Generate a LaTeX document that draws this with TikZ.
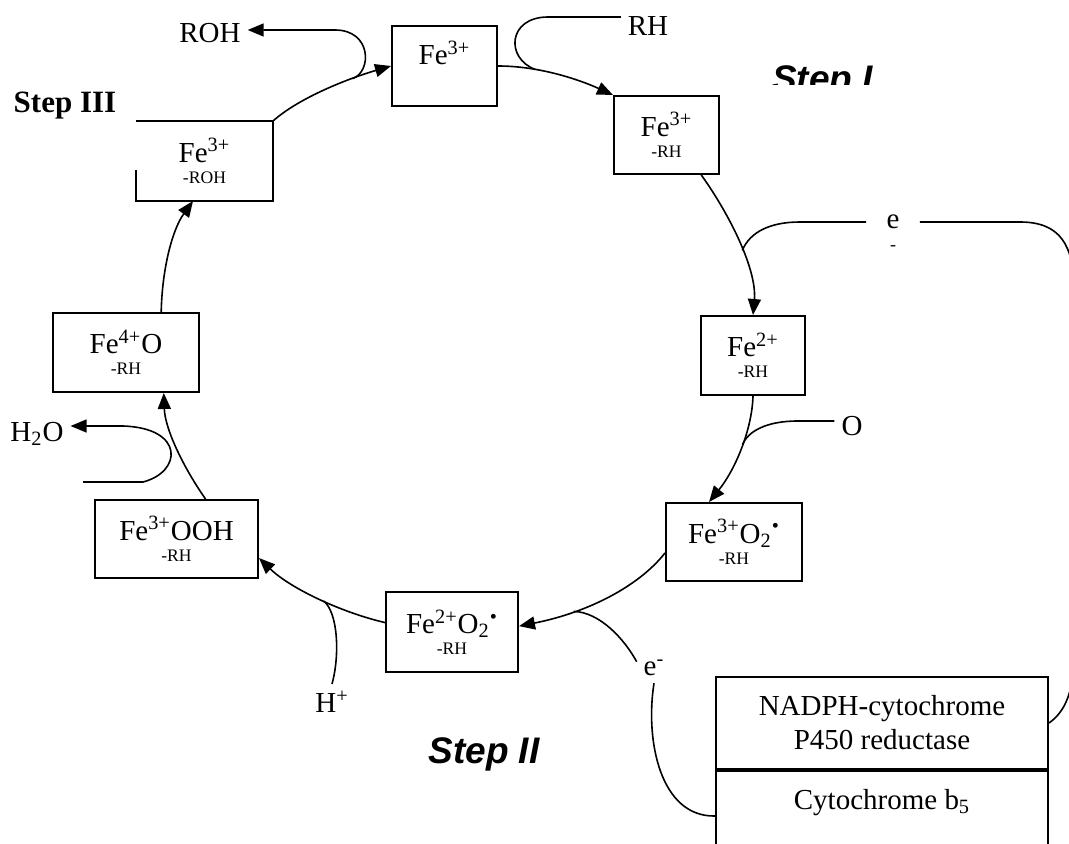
\documentclass[tikz,border=0pt]{standalone}
\usepackage{fontspec}
\setmainfont{Liberation Serif}
\newfontfamily\stepfont{Liberation Sans}
\usepackage{tikz}
\usetikzlibrary{arrows.meta, positioning}
\tikzstyle{state} = [rectangle, draw, line width=1pt, align=center, inner sep=2pt]
\tikzstyle{arrow} = [line width=0.8pt, -{Triangle[length=8pt, width=6.5pt]}]
\tikzstyle{branch} = [line width=0.8pt]
\tikzstyle{steplabel} = [font=\stepfont\bfseries\itshape\fontsize{18.5}{20}\selectfont]
\newcommand{\ligand}[1]{{\fontsize{8.8}{10}\selectfont #1}}

\begin{document}
\begin{tikzpicture}[x=0.5pt, y=-0.5pt, font=\fontsize{14.5}{17}\selectfont]
    \useasboundingbox (0,0) rectangle (1069,844);

    % the states of the cycle
    \node (fe1) [state, minimum width=52.5pt, text height=17.5pt, text depth=18.5pt] at (444.5,66) {Fe\textsuperscript{3+}};
    \node (fe2) [state, minimum width=52.5pt, minimum height=39pt] at (666.5,135) {Fe\textsuperscript{3+}\\[-6.5pt]\ligand{-RH}};
    \node (fe3) [state, minimum width=52pt, minimum height=39.5pt] at (753,355.5) {Fe\textsuperscript{2+}\\[-6.5pt]\ligand{-RH}};
    \node (fe4) [state, minimum width=68pt, minimum height=39pt] at (734,542) {Fe\textsuperscript{3+}O\textsubscript{2}\textsuperscript{\textbullet}\\[-6.5pt]\ligand{-RH}};
    \node (fe5) [state, minimum width=66pt, minimum height=40pt] at (452,632) {Fe\textsuperscript{2+}O\textsubscript{2}\textsuperscript{\textbullet}\\[-6.5pt]\ligand{-RH}};
    \node (fe6) [state, minimum width=81.5pt, minimum height=39pt] at (176.5,539) {Fe\textsuperscript{3+}OOH\\[-6.5pt]\ligand{-RH}};
    \node (fe7) [state, minimum width=73pt, minimum height=39.5pt] at (126,352.5) {Fe\textsuperscript{4+}O\\[-6.5pt]\ligand{-RH}};
    \node (fe8) [state, draw=none, minimum width=67.5pt, minimum height=39pt] at (204.5,161) {Fe\textsuperscript{3+}\\[-6.5pt]\ligand{-ROH}};
    \draw [line width=1pt] ([yshift=-4.5pt]fe8.west) -- (fe8.south west) -- (fe8.south east) -- (fe8.north east) -- (fe8.north west);

    % reductase and cytochrome b5
    \node (red) [state, minimum width=166pt, minimum height=46pt] at (882,723) {NADPH-cytochrome\\P450 reductase};
    \node (cyt) [state, minimum width=166pt, anchor=north, text height=17pt, text depth=24pt] at (red.south) {Cytochrome b\textsubscript{5}};

    % step titles
    \begin{scope}
        \clip (700,0) rectangle (950,85);
        \node (step1) [steplabel, anchor=base] at (822.5,91.5) {Step I};
    \end{scope}
    \node (step2) [steplabel, anchor=base] at (484,763) {Step II};
    \node (step3) [font=\bfseries\fontsize{15.5}{17}\selectfont, anchor=base] at (65,113) {Step III};

    % substrates and products
    \node (roh) at (210,33) {ROH};
    \node (rh) at (648,26) {RH};
    \node (e1) [inner xsep=10pt] at (893,222) {e};
    \node (e1m) [below=1pt of e1, font=\fontsize{9}{10}\selectfont] {-};
    \node (o) at (852,426) {O};
    \node (e2) at (654,668) {e\textsuperscript{-}};
    \node (hplus) at (332,702) {H\textsuperscript{+}};
    \node (h2o) at (37,434) {H\textsubscript{2}O};
    \coordinate (h2oin) at (83,482);

    % the cycle
    \draw [arrow] (fe8.north east) .. controls (300,97) and (350,78) .. (fe1.west) coordinate[pos=0.7] (j1);
    \draw [arrow] (fe1.east) .. controls (540,66) and (580,80) .. (fe2.north west) coordinate[pos=0.3] (j2);
    \draw [arrow] (fe2.-49) .. controls (730,215) and (757,270) .. (fe3.north) coordinate[pos=0.55] (j3);
    \draw [arrow] (fe3.south) .. controls (752,430) and (735,470) .. (fe4.122) coordinate[pos=0.45] (j4);
    \draw [arrow] (fe4.189) .. controls (640,585) and (590,612) .. (fe5.5) coordinate[pos=0.72] (j5);
    \draw [arrow] (fe5.172) .. controls (340,612) and (290,588) .. (fe6.-13) coordinate[pos=0.45] (j6);
    \draw [arrow] (fe6.54) .. controls (185,470) and (165,430) .. (fe7.-47);
    \draw [arrow] (fe7.49) .. controls (162,270) and (172,230) .. (fe8.-106);

    % side branches
    \draw [arrow] (j1) .. controls (372,72) and (372,30) .. (335,30) -- ([yshift=1.5pt]roh.east);
    \draw [branch] ([yshift=4.5pt]rh.west) -- (548,17) .. controls (508,17) and (505,58) .. (j2);
    \draw [branch] (j3) .. controls (750,232) and (770,222) .. (800,222) -- (e1.west);
    \draw [branch] (e1.east) -- (1020,222) .. controls (1060,222) and (1074,245) .. (1074,290) -- (1074,655) .. controls (1074,700) and (1060,715) .. (red.east);
    \draw [branch] ([yshift=2.5pt]o.west) -- (798,421) .. controls (765,421) and (748,432) .. (j4);
    \draw [branch] (j5) .. controls (600,612) and (625,640) .. (e2.160);
    \draw [branch] (e2.south) .. controls (645,740) and (660,817) .. (cyt.west);
    \draw [branch] (hplus.north) .. controls (340,655) and (338,612) .. (j6);
    \draw [arrow] (h2oin) -- (143,482) .. controls (182,472) and (185,428) .. (123,426) -- ([yshift=4pt]h2o.east);
\end{tikzpicture}
\end{document}
